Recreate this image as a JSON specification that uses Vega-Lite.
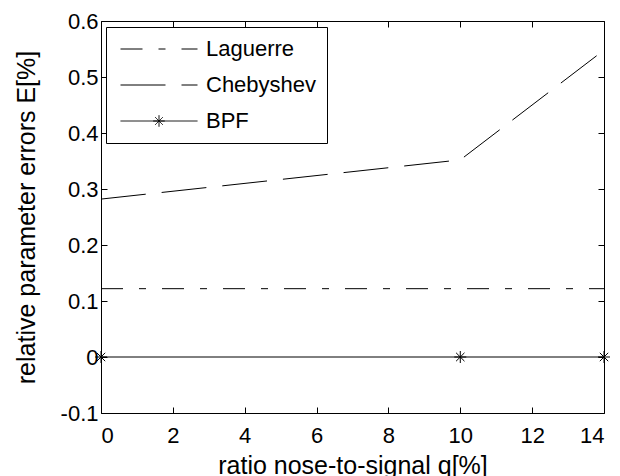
{
  "$schema": "https://vega.github.io/schema/vega-lite/v6.json",
  "width": 503,
  "height": 392,
  "autosize": {"type": "none"},
  "padding": {"left": 101, "top": 21, "right": 16, "bottom": 63},
  "background": "white",
  "config": {
    "view": {"stroke": "black", "strokeWidth": 1},
    "font": "Liberation Sans",
    "axis": {
      "grid": false,
      "domain": false,
      "tickColor": "black",
      "tickSize": -6,
      "tickWidth": 1,
      "labelFont": "Liberation Sans",
      "labelFontSize": 22,
      "labelColor": "black",
      "titleFont": "Liberation Sans",
      "titleFontSize": 25,
      "titleFontWeight": "normal",
      "titleColor": "black"
    }
  },
  "data": {
    "values": [
      {"method": "Laguerre", "q": 0, "E": 0.122},
      {"method": "Laguerre", "q": 10, "E": 0.122},
      {"method": "Laguerre", "q": 14, "E": 0.122},
      {"method": "Chebyshev", "q": 0, "E": 0.282},
      {"method": "Chebyshev", "q": 10, "E": 0.352},
      {"method": "Chebyshev", "q": 14, "E": 0.548},
      {"method": "BPF", "q": 0, "E": 0},
      {"method": "BPF", "q": 10, "E": 0},
      {"method": "BPF", "q": 14, "E": 0}
    ]
  },
  "layer": [
    {
      "mark": {"type": "line", "color": "black", "strokeWidth": 1},
      "encoding": {
        "x": {
          "field": "q", "type": "quantitative",
          "scale": {"domain": [0, 14], "nice": false, "zero": false},
          "axis": {"values": [0, 2, 4, 6, 8, 10, 12, 14], "title": "ratio nose-to-signal q[%]", "labelPadding": 18, "titlePadding": 7}
        },
        "y": {
          "field": "E", "type": "quantitative",
          "scale": {"domain": [-0.1, 0.6], "nice": false, "zero": false},
          "axis": {
            "values": [-0.1, 0, 0.1, 0.2, 0.3, 0.4, 0.5, 0.6],
            "labelExpr": "replace(format(datum.value, '~g'), '−', '-')",
            "title": "relative parameter errors E[%]",
            "labelPadding": 9,
            "titlePadding": 21
          }
        },
        "strokeDash": {
          "field": "method", "type": "nominal",
          "scale": {"domain": ["Laguerre", "Chebyshev", "BPF"], "range": [[22, 16, 7, 16], [45, 16], [1, 0]]},
          "legend": {
            "orient": "none", "legendX": 5, "legendY": 6, "title": null,
            "labelFont": "Liberation Sans", "labelFontSize": 22, "labelColor": "black",
            "strokeColor": "black", "fillColor": "white", "padding": 10,
            "symbolSize": 5929, "symbolStrokeWidth": 1, "symbolStrokeColor": "black",
            "clipHeight": 24, "rowPadding": 12, "labelOffset": 8, "symbolOffset": 4
          }
        }
      }
    },
    {
      "transform": [{"filter": "datum.method === 'BPF'"}],
      "mark": {
        "type": "point",
        "shape": "M-1,0H1M0,-1V1M-0.7,-0.7L0.7,0.7M-0.7,0.7L0.7,-0.7",
        "size": 144, "filled": false, "stroke": "black", "strokeWidth": 1, "opacity": 1
      },
      "encoding": {
        "x": {"field": "q", "type": "quantitative", "axis": {"orient": "top", "labels": false, "title": null, "values": [0, 2, 4, 6, 8, 10, 12, 14]}},
        "y": {"field": "E", "type": "quantitative", "axis": {"orient": "right", "labels": false, "title": null, "values": [-0.1, 0, 0.1, 0.2, 0.3, 0.4, 0.5, 0.6]}}
      }
    },
    {
      "transform": [{"filter": "datum.method === 'none'"}],
      "mark": {"type": "point", "filled": false, "stroke": "black", "strokeWidth": 1, "size": 5929, "opacity": 1},
      "encoding": {
        "x": {"field": "q", "type": "quantitative", "axis": null},
        "y": {"field": "E", "type": "quantitative", "axis": null},
        "shape": {
          "field": "method", "type": "nominal",
          "scale": {"domain": ["Laguerre", "Chebyshev", "BPF"], "range": ["stroke", "stroke", "M-1,0H1M-0.15,0H0.15M0,-0.15V0.15M-0.1,-0.1L0.1,0.1M-0.1,0.1L0.1,-0.1"]},
          "legend": {
            "orient": "none", "legendX": 5, "legendY": 6, "title": null,
            "labelFont": "Liberation Sans", "labelFontSize": 22, "labelColor": "black",
            "strokeColor": "black", "fillColor": "white", "padding": 10,
            "symbolSize": 5929, "symbolStrokeWidth": 1, "symbolStrokeColor": "black",
            "clipHeight": 24, "rowPadding": 12, "labelOffset": 8, "symbolOffset": 4
          }
        }
      }
    }
  ],
  "resolve": {"axis": {"x": "independent", "y": "independent"}}
}
